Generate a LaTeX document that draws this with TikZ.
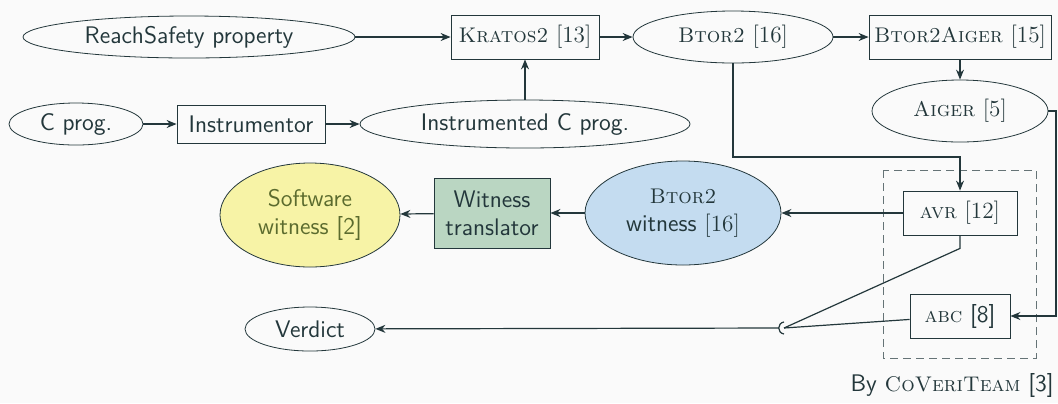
\documentclass[tikz,border=0pt]{standalone}
\usepackage{fontspec}
\usetikzlibrary{shapes.geometric}
\usetikzlibrary{arrows.meta}
\definecolor{darkteal}{HTML}{23373B}
\definecolor{bgclr}{HTML}{FAFAFA}
\definecolor{swyellow}{HTML}{F7F3A6}
\definecolor{trgreen}{HTML}{BAD6C2}
\definecolor{wtblue}{HTML}{C4DCF0}
\definecolor{olivetext}{HTML}{5B6B2E}
\newcommand{\tool}[1]{{\fontsize{10.6pt}{12pt}\selectfont\rmfamily\textsc{#1}}}
\newcommand{\rmref}[1]{{\fontsize{11.6pt}{13pt}\selectfont\rmfamily[#1]}}
\tikzset{toolbox/.style={draw=darkteal, inner sep=2pt, minimum height=22pt}}
\tikzset{dataell/.style={draw=darkteal, ellipse, inner sep=0pt}}
\tikzset{flow/.style={draw=darkteal, semithick, -{Stealth[length=5pt,width=4pt]}}}
\tikzset{plainline/.style={draw=darkteal, semithick}}

\begin{document}
\begin{tikzpicture}[x=0.5pt, y=-0.5pt, font=\fontsize{12pt}{14pt}\selectfont\sffamily, text=darkteal]

\fill[bgclr] (0,0) rectangle (1058,403);
\useasboundingbox (0,0) rectangle (1058,403);

\node[dataell, minimum width=166pt, minimum height=21pt] (rsp) at (189,37) {ReachSafety property};
\node[toolbox, minimum width=74pt] (kratos) at (525,37) {\tool{Kratos2} \rmref{13}};
\node[dataell, minimum width=100pt, minimum height=26pt] (btor) at (733,37) {\tool{Btor2} \rmref{16}};
\node[toolbox, minimum width=91pt] (btoaig) at (960,37) {\tool{Btor2Aiger} \rmref{15}};
\node[dataell, minimum width=88pt, minimum height=31pt] (aiger) at (960,111) {\tool{Aiger} \rmref{5}};

\node[dataell, minimum width=67pt, minimum height=21pt] (cprog) at (76,124) {C prog.};
\node[toolbox, minimum width=74pt, minimum height=19pt] (instr) at (251,124) {Instrumentor};
\node[dataell, minimum width=165pt, minimum height=24pt] (instrc) at (525,124) {Instrumented C prog.};

\node[toolbox, minimum width=57pt] (avr) at (960,213) {\tool{avr} \rmref{12}};
\node[toolbox, minimum width=50pt] (abc) at (960,316) {\tool{abc} [8]};

\node[dataell, fill=wtblue, minimum width=98pt, minimum height=52pt, align=center] (btw) at (683,213) {\tool{Btor2}\\witness \rmref{16}};
\node[toolbox, fill=trgreen, minimum width=58pt, minimum height=35pt, align=center] (wtr) at (492,213) {Witness\\translator};
\node[dataell, fill=swyellow, minimum width=90pt, minimum height=52pt, align=center, text=olivetext] (sw) at (310,215) {Software\\witness [2]};
\node[dataell, minimum width=65pt, minimum height=22pt] (verdict) at (310,329) {Verdict};

\node[anchor=south east, inner sep=0pt] (by) at (1054,398) {By \tool{CoVeriTeam} [3]};

\draw[darkteal!70, dash pattern=on 4pt off 2.5pt] (883,170) rectangle (1036,358);

\coordinate (turn) at (733,157);
\coordinate (rside) at (1056,111);
\coordinate (merge) at (784,328);
\coordinate (jtop) at (784,322);
\coordinate (jbot) at (784,334);
\coordinate (jleft) at (779,328);

\draw[flow] (rsp) -- (kratos);
\draw[flow] (kratos) -- (btor);
\draw[flow] (btor) -- (btoaig);
\draw[flow] (btoaig) -- (aiger);
\draw[flow] (cprog) -- (instr);
\draw[flow] (instr) -- (instrc);
\draw[flow] (instrc) -- (kratos);
\draw[flow] (btor) -- (turn) -| (avr);
\draw[flow] (aiger) -- (rside) |- (abc);
\draw[flow] (avr) -- (btw);
\draw[flow] (btw) -- (wtr);
\draw[flow] (wtr) -- (sw);
\draw[plainline] (avr.south) -- ++(0,13) -- (merge);
\draw[plainline] (abc) -- (merge);
\draw[plainline] (jtop) .. controls (777,323) and (777,333) .. (jbot);
\draw[flow] (jleft) -- (verdict);

\end{tikzpicture}
\end{document}
